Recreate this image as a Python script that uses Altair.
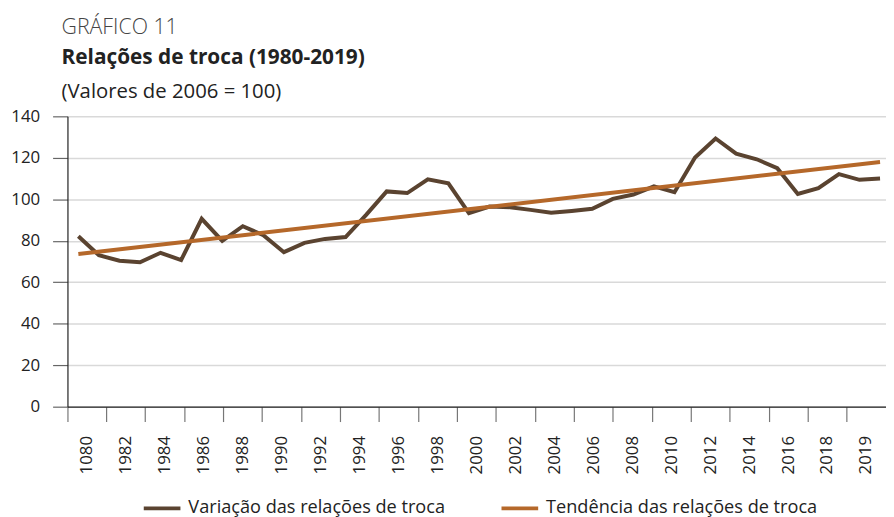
import altair as alt
import pandas as pd

# ---- data ----
years = [1980, 1981, 1982, 1983, 1984, 1985, 1986, 1987, 1988, 1989,
         1990, 1991, 1992, 1993, 1994, 1995, 1996, 1997, 1998, 1999,
         2000, 2001, 2002, 2003, 2004, 2005, 2006, 2007, 2008, 2009,
         2010, 2011, 2012, 2013, 2014, 2015, 2016, 2017, 2018, 2019]
variacao = [82.2, 73.0, 70.4, 69.6, 74.2, 70.7, 90.6, 80.0, 87.0, 82.7,
            74.5, 79.0, 80.9, 81.8, 92.5, 103.8, 103.0, 109.6, 107.7, 93.3,
            96.5, 96.2, 94.9, 93.5, 94.4, 95.4, 100.2, 102.3, 106.2, 103.4,
            120.1, 129.3, 122.0, 119.3, 115.0, 102.6, 105.4, 112.1, 109.4, 110.0]
trend_years = [1980, 2019]
trend_values = [73.6, 118.0]
axis_labels = ["1080", "1982", "1984", "1986", "1988", "1990", "1992", "1994",
               "1996", "1998", "2000", "2002", "2004", "2006", "2008", "2010",
               "2012", "2014", "2016", "2018", "2019"]
series = ["Variação das relações de troca", "Tendência das relações de troca"]
colors = ["#5a4330", "#b5682a"]
title_lines = ["GRÁFICO 11", "Relações de troca (1980-2019)", "(Valores de 2006 = 100)"]

FONT = "Open Sans"
W, H = 826, 293

df_var = pd.DataFrame({"ano": years, "valor": variacao, "serie": series[0]})
df_trend = pd.DataFrame({"ano": trend_years, "valor": trend_values, "serie": series[1]})
df_labels = pd.DataFrame({"lab": axis_labels})

color = alt.Color(
    "serie:N",
    scale=alt.Scale(domain=series, range=colors),
    legend=alt.Legend(
        title=None, orient="none", direction="horizontal",
        legendX=75, legendY=375,
        symbolType="stroke", symbolSize=1369, symbolStrokeWidth=4,
        labelFontSize=18.3, labelFont=FONT, labelColor="#222222",
        labelOffset=6, columnPadding=49, labelLimit=400,
    ),
)

xq = alt.X("ano:Q", scale=alt.Scale(domain=[1979.47, 2019.29], nice=False, zero=False), axis=None)
yq = alt.Y(
    "valor:Q",
    scale=alt.Scale(domain=[0, 140], nice=False),
    axis=alt.Axis(
        title=None, values=[0, 20, 40, 60, 80, 100, 120, 140],
        grid=True, gridColor="#d9d9d9", gridWidth=1.5,
        domainColor="#222222", domainWidth=1.2,
        tickColor="#666666", tickSize=15, tickWidth=1.2,
        labelFont=FONT, labelFontSize=17, labelColor="#222222", labelPadding=13,
    ),
)

line_var = alt.Chart(df_var).mark_line(strokeWidth=4, strokeJoin="miter").encode(x=xq, y=yq, color=color)
line_trend = alt.Chart(df_trend).mark_line(strokeWidth=4).encode(x=xq, y=yq, color=color)

axis_layer = alt.Chart(df_labels).mark_point(opacity=0).encode(
    x=alt.X(
        "lab:N", sort=axis_labels,
        scale=alt.Scale(type="band", domain=axis_labels, paddingInner=0, paddingOuter=0),
        axis=alt.Axis(
            title=None, labelAngle=-90, bandPosition=0, grid=False,
            domainColor="#222222", domainWidth=1.2,
            tickColor="#777777", tickSize=15, tickWidth=1.2,
            labelFont=FONT, labelFontSize=17, labelColor="#222222", labelPadding=14,
        ),
    ),
    y=alt.value(H),
)

def title_text(txt, y, size, weight, col):
    return alt.Chart(pd.DataFrame({"t": [txt]})).mark_text(
        align="left", baseline="alphabetic", font=FONT, fontSize=size,
        fontWeight=weight, color=col,
    ).encode(x=alt.value(-6), y=alt.value(y), text="t:N")

t1 = title_text(title_lines[0], -83, 21.5, 300, "#444444")
t2 = title_text(title_lines[1], -53, 21, "bold", "#222222")
t3 = title_text(title_lines[2], -19, 20.5, "normal", "#222222")

chart = alt.layer(axis_layer, line_var, line_trend, t1, t2, t3).resolve_scale(
    x="independent"
).properties(
    width=W, height=H,
    autosize=alt.AutoSizeParams(type="none"),
    padding={"left": 60, "top": 107, "right": 0, "bottom": 109},
).configure_view(stroke=None)

chart.save("out.html", embed_options={"renderer": "svg", "actions": False})
